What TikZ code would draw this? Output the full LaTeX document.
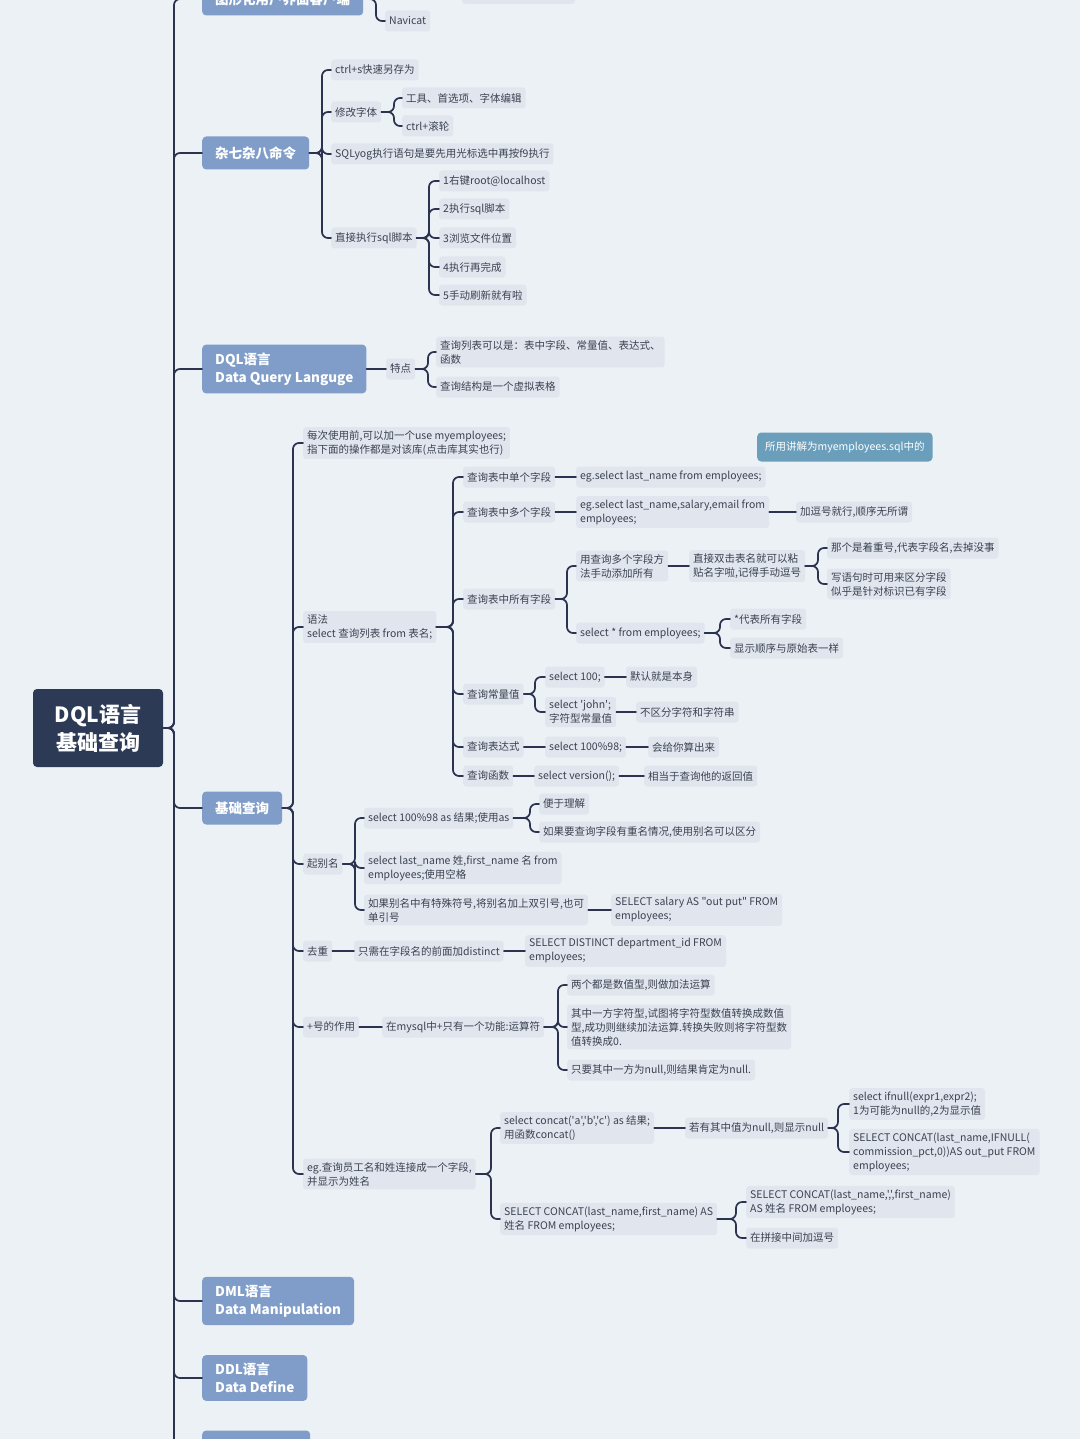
\documentclass[tikz,border=0pt]{standalone}
\usepackage{fontspec}
\newfontfamily\cjk[Ligatures=TeXOff]{Noto Sans CJK SC}
\usepackage{tikz}
\usetikzlibrary{positioning, calc}

\definecolor{bgc}{HTML}{EBF1F5}
\definecolor{leafc}{HTML}{E1E6EE}
\definecolor{mainc}{HTML}{7F9DC8}
\definecolor{rootc}{HTML}{2C3A56}
\definecolor{notec}{HTML}{6A9EBB}
\definecolor{linec}{HTML}{2B3350}
\definecolor{inkc}{HTML}{3A4150}

\begin{document}
\begin{tikzpicture}[x=1pt,y=-1pt, line cap=round, line join=round,
  link/.style={draw=linec, line width=1.7pt, rounded corners=6pt},
  leaf/.style={fill=leafc, text=inkc, rounded corners=3pt, anchor=west, align=left,
    inner xsep=4pt, inner ysep=3.5pt, minimum height=21pt, font=\cjk\fontsize{10.5}{14}\selectfont},
  topic/.style={fill=mainc, text=white, rounded corners=4pt, anchor=west, align=left,
    inner xsep=13pt, inner ysep=8pt, minimum height=33pt, font=\cjk\bfseries\fontsize{13.5}{18}\selectfont},
  rootbox/.style={fill=rootc, text=white, rounded corners=4pt, align=center,
    minimum width=130pt, minimum height=78pt, font=\cjk\bfseries\fontsize{21}{28}\selectfont},
  notebox/.style={fill=notec, text=white, rounded corners=4pt, anchor=west,
    inner xsep=8pt, minimum height=29pt, font=\cjk\fontsize{10.5}{14}\selectfont}]

\useasboundingbox (0,0) rectangle (1080,1439);
\clip (0,0) rectangle (1080,1439);
\fill[bgc] (0,0) rectangle (1080,1439);

% root and main topics
\node[rootbox] (root) at (98,728) {DQL语言\\基础查询};

\node[topic] (gui)   at (202,-1)   {图形化用户界面客户端};
\node[topic] (misc)  at (202,153)  {杂七杂八命令};
\node[topic] (dql)   at (202,369)  {DQL语言\\Data Query Languge};
\node[topic] (basic) at (202,808)  {基础查询};
\node[topic] (dml)   at (202,1301) {DML语言\\Data Manipulation};
\node[topic] (ddl)   at (202,1378) {DDL语言\\Data Define};
\node[topic, minimum width=108pt, minimum height=51pt] (more) at (202,1456) {};

\foreach \kid in {gui,misc,dql,basic,dml,ddl,more}
  \draw[link] (root.east) -- ($(root.east -| \kid.west)+(-28,0)$) |- (\kid.west);

% top
\fill[leafc, rounded corners=3pt] (462,-20) rectangle (575,4);
\node[leaf] (navicat) at (385,21) {Navicat};
\draw[link] (gui.east) -- ($(gui.east -| navicat.west)+(-9,0)$) |- (navicat.west);

% misc
\node[leaf] (ctrls)   at (331,70)  {ctrl+s快速另存为};
\node[leaf] (fontset) at (331,112) {修改字体};
\node[leaf] (font1)   at (402,98)  {工具、首选项、字体编辑};
\node[leaf] (font2)   at (402,126) {ctrl+滚轮};
\node[leaf] (sqlyog)  at (331,154) {SQLyog执行语句是要先用光标选中再按f9执行};
\node[leaf] (script)  at (331,238) {直接执行sql脚本};
\node[leaf] (s1) at (439,181) {1右键root@localhost};
\node[leaf] (s2) at (439,209) {2执行sql脚本};
\node[leaf] (s3) at (439,238) {3浏览文件位置};
\node[leaf] (s4) at (439,267) {4执行再完成};
\node[leaf] (s5) at (439,295) {5手动刷新就有啦};

\foreach \kid in {ctrls,fontset,sqlyog,script}
  \draw[link] (misc.east) -- ($(misc.east -| \kid.west)+(-9,0)$) |- (\kid.west);
\foreach \kid in {font1,font2}
  \draw[link] (fontset.east) -- ($(fontset.east -| \kid.west)+(-8,0)$) |- (\kid.west);
\foreach \kid in {s1,s2,s3,s4,s5}
  \draw[link] (script.east) -- ($(script.east -| \kid.west)+(-10,0)$) |- (\kid.west);

% dql
\node[leaf] (feat)  at (386,369) {特点};
\node[leaf] (feat1) at (436,352) {查询列表可以是：表中字段、常量值、表达式、\\函数};
\node[leaf] (feat2) at (436,387) {查询结构是一个虚拟表格};
\draw[link] (dql.east) -- (feat.west);
\foreach \kid in {feat1,feat2}
  \draw[link] (feat.east) -- ($(feat.east -| \kid.west)+(-8,0)$) |- (\kid.west);

% basic
\node[leaf] (use)    at (303,443)  {每次使用前,可以加一个use myemployees;\\指下面的操作都是对该库(点击库其实也行)};
\node[notebox] (note) at (757,447) {所用讲解为myemployees.sql中的};
\node[leaf] (syntax) at (303,627)  {语法\\select 查询列表 from 表名;};
\node[leaf] (alias)  at (303,864)  {起别名};
\node[leaf] (dist)   at (303,951)  {去重};
\node[leaf] (plus)   at (303,1027) {+号的作用};
\node[leaf] (concat) at (303,1174) {eg.查询员工名和姓连接成一个字段,\\并显示为姓名};
\foreach \kid in {use,syntax,alias,dist,plus,concat}
  \draw[link] (basic.east) -- ($(basic.east -| \kid.west)+(-10,0)$) |- (\kid.west);

% syntax
\node[leaf] (q1)  at (463,477) {查询表中单个字段};
\node[leaf] (q1a) at (576,477) {eg.select last\_name from employees;};
\node[leaf] (q2)  at (463,512) {查询表中多个字段};
\node[leaf] (q2a) at (576,512) {eg.select last\_name,salary,email from\\employees;};
\node[leaf] (q2b) at (796,512) {加逗号就行,顺序无所谓};
\node[leaf] (q3)  at (463,599) {查询表中所有字段};
\node[leaf] (q3a) at (576,566) {用查询多个字段方\\法手动添加所有};
\node[leaf] (q3b) at (689,566) {直接双击表名就可以粘\\贴名字啦,记得手动逗号};
\node[leaf] (q3c) at (827,548) {那个是着重号,代表字段名,去掉没事};
\node[leaf] (q3d) at (827,584) {写语句时可用来区分字段\\似乎是针对标识已有字段};
\node[leaf] (q3e) at (576,633) {select * from employees;};
\node[leaf] (q3f) at (730,619) {*代表所有字段};
\node[leaf] (q3g) at (730,648) {显示顺序与原始表一样};
\node[leaf] (q4)  at (463,694) {查询常量值};
\node[leaf] (q4a) at (545,677) {select 100;};
\node[leaf] (q4b) at (626,677) {默认就是本身};
\node[leaf] (q4c) at (545,712) {select 'john';\\字符型常量值};
\node[leaf] (q4d) at (636,712) {不区分字符和字符串};
\node[leaf] (q5)  at (463,747) {查询表达式};
\node[leaf] (q5a) at (545,747) {select 100\%98;};
\node[leaf] (q5b) at (648,747) {会给你算出来};
\node[leaf] (q6)  at (463,776) {查询函数};
\node[leaf] (q6a) at (534,776) {select version();};
\node[leaf] (q6b) at (644,776) {相当于查询他的返回值};

\foreach \kid in {q1,q2,q3,q4,q5,q6}
  \draw[link] (syntax.east) -- ($(syntax.east -| \kid.west)+(-10,0)$) |- (\kid.west);
\draw[link] (q1.east) -- (q1a.west);
\draw[link] (q2.east) -- (q2a.west);
\draw[link] (q2a.east) -- (q2b.west);
\foreach \kid in {q3a,q3e}
  \draw[link] (q3.east) -- ($(q3.east -| \kid.west)+(-9,0)$) |- (\kid.west);
\draw[link] (q3a.east) -- (q3b.west);
\foreach \kid in {q3c,q3d}
  \draw[link] (q3b.east) -- ($(q3b.east -| \kid.west)+(-9,0)$) |- (\kid.west);
\foreach \kid in {q3f,q3g}
  \draw[link] (q3e.east) -- ($(q3e.east -| \kid.west)+(-10,0)$) |- (\kid.west);
\foreach \kid in {q4a,q4c}
  \draw[link] (q4.east) -- ($(q4.east -| \kid.west)+(-10,0)$) |- (\kid.west);
\draw[link] (q4a.east) -- (q4b.west);
\draw[link] (q4c.east) -- (q4d.west);
\draw[link] (q5.east) -- (q5a.west);
\draw[link] (q5a.east) -- (q5b.west);
\draw[link] (q6.east) -- (q6a.west);
\draw[link] (q6a.east) -- (q6b.west);

% alias
\node[leaf] (al1)  at (364,818) {select 100\%98 as 结果;使用as};
\node[leaf] (al1a) at (539,804) {便于理解};
\node[leaf] (al1b) at (539,832) {如果要查询字段有重名情况,使用别名可以区分};
\node[leaf] (al2)  at (364,868) {select last\_name 姓,first\_name 名 from\\employees;使用空格};
\node[leaf] (al3)  at (364,910) {如果别名中有特殊符号,将别名加上双引号,也可\\单引号};
\node[leaf] (al3a) at (611,910) {SELECT salary AS "out put" FROM\\employees;};
\foreach \kid in {al1,al2,al3}
  \draw[link] (alias.east) -- ($(alias.east -| \kid.west)+(-9,0)$) |- (\kid.west);
\foreach \kid in {al1a,al1b}
  \draw[link] (al1.east) -- ($(al1.east -| \kid.west)+(-9,0)$) |- (\kid.west);
\draw[link] (al3.east) -- (al3a.west);

% distinct
\node[leaf] (dist1) at (354,951) {只需在字段名的前面加distinct};
\node[leaf] (dist2) at (525,951) {SELECT DISTINCT department\_id FROM\\employees;};
\draw[link] (dist.east) -- (dist1.west);
\draw[link] (dist1.east) -- (dist2.west);

% plus
\node[leaf] (plus1) at (382,1027) {在mysql中+只有一个功能:运算符};
\node[leaf] (p1) at (567,985)  {两个都是数值型,则做加法运算};
\node[leaf] (p2) at (567,1027) {其中一方字符型,试图将字符型数值转换成数值\\型,成功则继续加法运算.转换失败则将字符型数\\值转换成0.};
\node[leaf] (p3) at (567,1070) {只要其中一方为null,则结果肯定为null.};
\draw[link] (plus.east) -- (plus1.west);
\foreach \kid in {p1,p2,p3}
  \draw[link] (plus1.east) -- ($(plus1.east -| \kid.west)+(-9,0)$) |- (\kid.west);

% concat
\node[leaf] (c1)  at (500,1128) {select concat('a','b','c') as 结果;\\用函数concat()};
\node[leaf] (c1a) at (685,1128) {若有其中值为null,则显示null};
\node[leaf] (c1b) at (849,1104) {select ifnull(expr1,expr2);\\1为可能为null的,2为显示值};
\node[leaf] (c1c) at (849,1152) {SELECT CONCAT(last\_name,IFNULL(\\commission\_pct,0))AS out\_put FROM\\employees;};
\node[leaf] (c2)  at (500,1219) {SELECT CONCAT(last\_name,first\_name) AS\\姓名 FROM employees;};
\node[leaf] (c2a) at (746,1202) {SELECT CONCAT(last\_name,',',first\_name)\\AS 姓名 FROM employees;};
\node[leaf] (c2b) at (746,1238) {在拼接中间加逗号};
\foreach \kid in {c1,c2}
  \draw[link] (concat.east) -- ($(concat.east -| \kid.west)+(-9,0)$) |- (\kid.west);
\draw[link] (c1.east) -- (c1a.west);
\foreach \kid in {c1b,c1c}
  \draw[link] (c1a.east) -- ($(c1a.east -| \kid.west)+(-11,0)$) |- (\kid.west);
\foreach \kid in {c2a,c2b}
  \draw[link] (c2.east) -- ($(c2.east -| \kid.west)+(-10,0)$) |- (\kid.west);

\end{tikzpicture}
\end{document}
